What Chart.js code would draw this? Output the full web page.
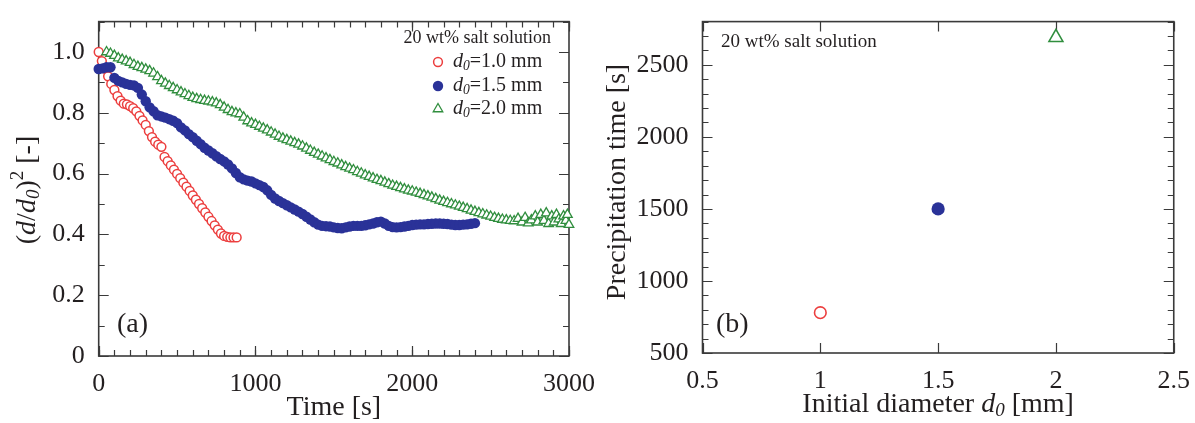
<!DOCTYPE html>
<html>
<head>
<meta charset="utf-8">
<script src="https://cdn.jsdelivr.net/npm/chart.js@4"></script>
<style>
  body { margin: 0; background: #fff; width: 1195px; height: 423px; overflow: hidden; position: relative; }
  canvas { position: absolute; top: 0; }
</style>
</head>
<body>
<canvas id="chartA" width="600" height="423" style="left:0"></canvas>
<canvas id="chartB" width="595" height="423" style="left:600px"></canvas>
<script>
// ---- (a) droplet size vs time ----
const redT = [0, 20, 40, 60, 80, 100, 120, 140, 160, 180, 200, 220, 240, 260, 280, 300, 320, 340, 360, 380,
  400, 420, 440, 460, 480, 500, 520, 540, 560, 580, 600, 620, 640, 660, 680, 700, 720, 740, 760, 780,
  800, 820, 840, 860, 880];
const redY = [1.0, 0.97, 0.945, 0.92, 0.895, 0.875, 0.855, 0.84, 0.83, 0.828, 0.822, 0.815, 0.805, 0.79, 0.775, 0.76, 0.74, 0.72, 0.705, 0.695,
  0.688, 0.655, 0.641, 0.627, 0.613, 0.599, 0.585, 0.570, 0.557, 0.543, 0.528, 0.514, 0.500, 0.486, 0.472, 0.458, 0.444, 0.430, 0.416, 0.403,
  0.395, 0.392, 0.390, 0.390, 0.390];

const blueT = [0, 25, 50, 75, 100, 125, 150, 175, 200, 225,
  250, 275, 300, 325, 350, 375, 400, 425, 450, 475,
  500, 525, 550, 575, 600, 625, 650, 675, 700, 725,
  750, 775, 800, 825, 850, 875, 900, 925, 950, 975,
  1000, 1025, 1050, 1075, 1100, 1125, 1150, 1175, 1200, 1225,
  1250, 1275, 1300, 1325, 1350, 1375, 1400, 1425, 1450, 1475,
  1500, 1525, 1550, 1575, 1600, 1625, 1650, 1675, 1700, 1725,
  1750, 1775, 1800, 1825, 1850, 1875, 1900, 1925, 1950, 1975,
  2000, 2025, 2050, 2075, 2100, 2125, 2150, 2175, 2200, 2225,
  2250, 2275, 2300, 2325, 2350, 2375, 2400];
const blueY = [0.944, 0.946, 0.95, 0.95, 0.915, 0.905, 0.90, 0.895, 0.892, 0.89,
  0.882, 0.86, 0.838, 0.818, 0.805, 0.792, 0.788, 0.784, 0.779, 0.774,
  0.766, 0.752, 0.742, 0.73, 0.72, 0.708, 0.697, 0.685, 0.676, 0.667,
  0.657, 0.648, 0.64, 0.63, 0.617, 0.602, 0.588, 0.581, 0.577, 0.574,
  0.568, 0.562, 0.556, 0.545, 0.53, 0.518, 0.51, 0.503, 0.496, 0.489,
  0.482, 0.475, 0.467, 0.458, 0.449, 0.44, 0.432, 0.428, 0.427, 0.426,
  0.423, 0.421, 0.42, 0.423, 0.426, 0.428, 0.428, 0.428, 0.43, 0.433,
  0.436, 0.44, 0.442, 0.436, 0.428, 0.424, 0.423, 0.424, 0.426, 0.428,
  0.431, 0.432, 0.433, 0.433, 0.434, 0.435, 0.436, 0.436, 0.435, 0.434,
  0.432, 0.431, 0.431, 0.432, 0.433, 0.435, 0.437];

const greenT = [50, 75, 100, 125, 150, 175, 200, 225, 250, 275,
  300, 325, 350, 375, 400, 425, 450, 475, 500, 525,
  550, 575, 600, 625, 650, 675, 700, 725, 750, 775,
  800, 825, 850, 875, 900, 925, 950, 975, 1000, 1025,
  1050, 1075, 1100, 1125, 1150, 1175, 1200, 1225, 1250, 1275,
  1300, 1325, 1350, 1375, 1400, 1425, 1450, 1475, 1500, 1525,
  1550, 1575, 1600, 1625, 1650, 1675, 1700, 1725, 1750, 1775,
  1800, 1825, 1850, 1875, 1900, 1925, 1950, 1975, 2000, 2025,
  2050, 2075, 2100, 2125, 2150, 2175, 2200, 2225, 2250, 2275,
  2300, 2325, 2350, 2375, 2400, 2425, 2450, 2475, 2500, 2525,
  2550, 2575, 2600, 2625, 2650,
  2675, 2700, 2720, 2740, 2760, 2785, 2800, 2820, 2840, 2855,
  2870, 2890, 2905, 2920, 2935, 2950, 2965, 2980, 2990, 3000];
const greenY = [1.0, 0.995, 0.988, 0.98, 0.975, 0.97, 0.965, 0.958, 0.952, 0.948,
  0.943, 0.938, 0.93, 0.918, 0.905, 0.897, 0.889, 0.882, 0.875, 0.868,
  0.862, 0.856, 0.85, 0.846, 0.843, 0.84, 0.838, 0.835, 0.832, 0.826,
  0.818, 0.81, 0.803, 0.799, 0.796, 0.785, 0.773, 0.766, 0.761, 0.755,
  0.749, 0.743, 0.736, 0.729, 0.722, 0.716, 0.711, 0.706, 0.701, 0.696,
  0.69, 0.683, 0.676, 0.669, 0.663, 0.657, 0.651, 0.645, 0.639, 0.634,
  0.628, 0.622, 0.617, 0.612, 0.606, 0.601, 0.595, 0.59, 0.585, 0.58,
  0.576, 0.571, 0.566, 0.561, 0.557, 0.553, 0.549, 0.545, 0.542, 0.538,
  0.534, 0.53, 0.526, 0.522, 0.517, 0.512, 0.508, 0.504, 0.5, 0.496,
  0.492, 0.488, 0.484, 0.479, 0.475, 0.471, 0.467, 0.463, 0.459, 0.455,
  0.452, 0.449, 0.447, 0.445, 0.444,
  0.452, 0.44, 0.455, 0.437, 0.447, 0.46, 0.44, 0.465, 0.445, 0.47,
  0.435, 0.46, 0.44, 0.465, 0.45, 0.435, 0.46, 0.445, 0.465, 0.432];

const xTicksA = [0, 1000, 2000, 3000];
const xLabelsA = ['0', '1000', '2000', '3000'];
const yTicksA = [0, 0.2, 0.4, 0.6, 0.8, 1.0];
const yLabelsA = ['0', '0.2', '0.4', '0.6', '0.8', '1.0'];

// ---- (b) precipitation time vs initial diameter ----
const diameters = [1.0, 1.5, 2.0];
const precipTimes = [780, 1500, 2690];
const xTicksB = [0.5, 1, 1.5, 2, 2.5];
const xLabelsB = ['0.5', '1', '1.5', '2', '2.5'];
const yTicksB = [500, 1000, 1500, 2000, 2500];
const yLabelsB = ['500', '1000', '1500', '2000', '2500'];

const RED = 'rgb(236,62,62)';
const BLUE = 'rgb(42,50,152)';
const GREEN = 'rgb(48,142,62)';
const AXIS = '#3a3a3a';
const TEXT = '#231f20';
const SERIF = '"Liberation Serif", "DejaVu Serif", serif';

const pts = (xs, ys) => xs.map((x, i) => ({ x: x, y: ys[i] }));

// text made of runs: {t, it, sub, sup}
function richText(ctx, runs, x, y, size, align) {
  const parts = runs.map(r => {
    const fs = (r.sub || r.sup) ? size * 0.68 : size;
    const font = (r.it ? 'italic ' : '') + fs + 'px ' + SERIF;
    ctx.font = font;
    return { t: r.t, font: font, w: ctx.measureText(r.t).width, dy: r.sub ? size * 0.22 : (r.sup ? -size * 0.36 : 0) };
  });
  const total = parts.reduce((s, p) => s + p.w, 0);
  let cx = align === 'center' ? x - total / 2 : (align === 'right' ? x - total : x);
  ctx.fillStyle = TEXT;
  ctx.textBaseline = 'middle';
  ctx.textAlign = 'left';
  parts.forEach(p => {
    ctx.font = p.font;
    ctx.fillText(p.t, cx, y + p.dy);
    cx += p.w;
  });
}

// box frame with inward ticks on all four sides
const frameTicks = {
  id: 'frameTicks',
  beforeDatasetsDraw(chart, args, opts) {
    const { ctx, chartArea: a, scales: { x, y } } = chart;
    ctx.save();
    ctx.strokeStyle = AXIS;
    ctx.lineWidth = 1.2;
    const marks = (scale, step, len, horiz) => {
      if (!step) return;
      const n = Math.round((scale.max - scale.min) / step);
      ctx.beginPath();
      for (let i = 0; i <= n; i++) {
        const p = Math.round(scale.getPixelForValue(scale.min + i * step)) + 0.5;
        if (horiz) {
          ctx.moveTo(p, a.bottom); ctx.lineTo(p, a.bottom - len);
          ctx.moveTo(p, a.top); ctx.lineTo(p, a.top + len);
        } else {
          ctx.moveTo(a.left, p); ctx.lineTo(a.left + len, p);
          ctx.moveTo(a.right, p); ctx.lineTo(a.right - len, p);
        }
      }
      ctx.stroke();
    };
    marks(x, opts.xMinor, 6, true);
    marks(x, opts.xMajor, 10, true);
    marks(y, opts.yMinor, 6, false);
    marks(y, opts.yMajor, 10, false);
    ctx.lineWidth = 1.6;
    ctx.strokeRect(a.left, a.top, a.right - a.left, a.bottom - a.top);
    ctx.restore();
  }
};

function axisOpts(min, max, ticks, labels, fit, isX) {
  return {
    type: 'linear', min: min, max: max,
    grid: { display: false }, border: { display: false },
    afterBuildTicks: s => { s.ticks = ticks.map(v => ({ value: v })); },
    ticks: {
      autoSkip: false, maxRotation: 0,
      color: TEXT, padding: isX ? 5 : 6,
      font: { family: SERIF, size: 26 },
      callback: v => labels[ticks.indexOf(v)]
    },
    afterFit: s => { if (isX) s.height = fit; else s.width = fit; }
  };
}

// ---- chart (a) ----
new Chart(document.getElementById('chartA'), {
  type: 'scatter',
  data: {
    datasets: [
      { label: 'd0=2.0 mm', data: pts(greenT, greenY), pointStyle: 'triangle', pointRadius: 5.5,
        borderColor: GREEN, backgroundColor: '#fff', borderWidth: 1.3, clip: false },
      { label: 'd0=1.5 mm', data: pts(blueT, blueY), pointStyle: 'circle', pointRadius: 5.2,
        borderColor: BLUE, backgroundColor: BLUE, borderWidth: 0, clip: false },
      { label: 'd0=1.0 mm', data: pts(redT, redY), pointStyle: 'circle', pointRadius: 4.4,
        borderColor: RED, backgroundColor: '#fff', borderWidth: 1.5, clip: false }
    ]
  },
  options: {
    responsive: false, animation: false,
    layout: { padding: { top: 14, right: 27, left: 0, bottom: 0 } },
    scales: {
      x: axisOpts(0, 3000, xTicksA, xLabelsA, 67, true),
      y: axisOpts(0, 1.1, yTicksA, yLabelsA, 98.7, false)
    },
    plugins: {
      legend: { display: false }, tooltip: { enabled: false },
      frameTicks: { xMinor: 100, xMajor: 1000, yMinor: 0.1, yMajor: 0.2 }
    }
  },
  plugins: [frameTicks, {
    id: 'labelsA',
    afterDraw(chart) {
      const ctx = chart.ctx;
      const a = chart.chartArea;
      ctx.save();
      richText(ctx, [{ t: 'Time [s]' }], (a.left + a.right) / 2, 408, 28, 'center');
      richText(ctx, [{ t: '(a)' }], 117, 325, 28, 'left');
      ctx.translate(28, 190);
      ctx.rotate(-Math.PI / 2);
      richText(ctx, [{ t: '(' }, { t: 'd', it: true }, { t: '/' }, { t: 'd', it: true }, { t: '0', it: true, sub: true },
        { t: ')' }, { t: '2', sup: true }, { t: ' [-]' }], 0, 0, 28, 'center');
      ctx.restore();

      // legend
      ctx.save();
      richText(ctx, [{ t: '20 wt% salt solution' }], 551, 38, 18, 'right');
      const rows = [
        { y: 62, text: '1.0 mm', style: 'circle', r: 4.4, fill: '#fff', stroke: RED, bw: 1.5 },
        { y: 86, text: '1.5 mm', style: 'circle', r: 5.2, fill: BLUE, stroke: BLUE, bw: 0 },
        { y: 109, text: '2.0 mm', style: 'triangle', r: 5.5, fill: '#fff', stroke: GREEN, bw: 1.3 }
      ];
      rows.forEach(row => {
        ctx.fillStyle = row.fill;
        ctx.strokeStyle = row.stroke;
        ctx.lineWidth = row.bw;
        Chart.helpers.drawPoint(ctx, { pointStyle: row.style, radius: row.r, borderWidth: row.bw, rotation: 0 }, 438, row.y);
        richText(ctx, [{ t: 'd', it: true }, { t: '0', it: true, sub: true }, { t: '=' + row.text }], 453, row.y, 20, 'left');
      });
      ctx.restore();
    }
  }]
});

// ---- chart (b) ----
new Chart(document.getElementById('chartB'), {
  type: 'scatter',
  data: {
    datasets: [
      { label: 'd0=1.0 mm', data: [{ x: diameters[0], y: precipTimes[0] }], pointStyle: 'circle', pointRadius: 5.8,
        borderColor: RED, backgroundColor: '#fff', borderWidth: 1.6, clip: false },
      { label: 'd0=1.5 mm', data: [{ x: diameters[1], y: precipTimes[1] }], pointStyle: 'circle', pointRadius: 6.6,
        borderColor: BLUE, backgroundColor: BLUE, borderWidth: 0, clip: false },
      { label: 'd0=2.0 mm', data: [{ x: diameters[2], y: precipTimes[2] }], pointStyle: 'triangle', pointRadius: 8,
        borderColor: GREEN, backgroundColor: '#fff', borderWidth: 1.6, clip: false }
    ]
  },
  options: {
    responsive: false, animation: false,
    layout: { padding: { top: 12, right: 18, left: 0, bottom: 0 } },
    scales: {
      x: axisOpts(0.5, 2.5, xTicksB, xLabelsB, 70, true),
      y: axisOpts(500, 2800, yTicksB, yLabelsB, 102.5, false)
    },
    plugins: {
      legend: { display: false }, tooltip: { enabled: false },
      frameTicks: { xMinor: null, xMajor: 0.5, yMinor: 100, yMajor: 500 }
    }
  },
  plugins: [frameTicks, {
    id: 'labelsB',
    afterDraw(chart) {
      const ctx = chart.ctx;
      const a = chart.chartArea;
      ctx.save();
      richText(ctx, [{ t: 'Initial diameter ' }, { t: 'd', it: true }, { t: '0', it: true, sub: true }, { t: ' [mm]' }],
        (a.left + a.right) / 2, 405, 28, 'center');
      richText(ctx, [{ t: '20 wt% salt solution' }], 121, 42, 19, 'left');
      richText(ctx, [{ t: '(b)' }], 116, 325, 28, 'left');
      ctx.translate(18, 182);
      ctx.rotate(-Math.PI / 2);
      richText(ctx, [{ t: 'Precipitation time [s]' }], 0, 0, 28, 'center');
      ctx.restore();
    }
  }]
});
</script>
</body>
</html>
